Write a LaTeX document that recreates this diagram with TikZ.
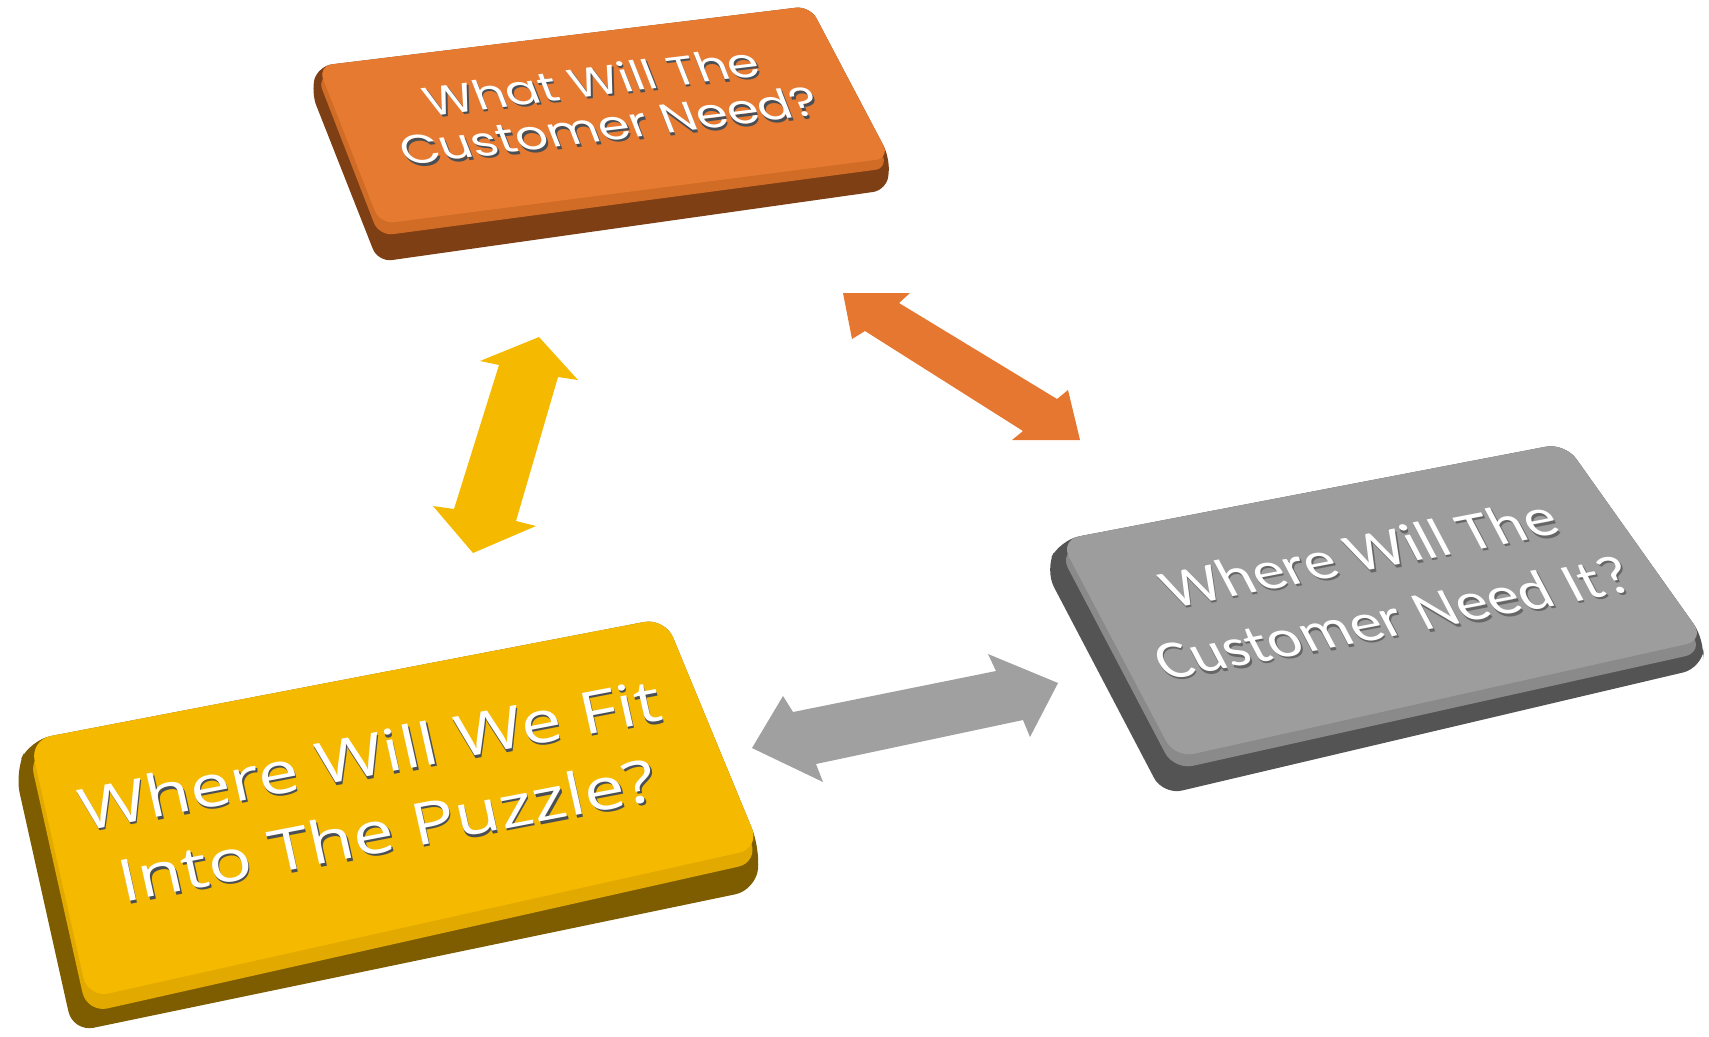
\documentclass[tikz,border=0pt]{standalone}
\usepackage{fontspec}
\newfontfamily\orfont{Poppins}
\newfontfamily\yefont{Open Sans}
\newfontfamily\grfont{Carlito}
\definecolor{orTop}{HTML}{E67A31}
\definecolor{orMid}{HTML}{D06C25}
\definecolor{orDark}{HTML}{7E3F14}
\definecolor{yeTop}{HTML}{F5B900}
\definecolor{yeMid}{HTML}{E2AA00}
\definecolor{yeDark}{HTML}{7D5D00}
\definecolor{grTop}{HTML}{9D9D9D}
\definecolor{grMid}{HTML}{8A8A8A}
\definecolor{grDark}{HTML}{545454}
\definecolor{orArrow}{HTML}{E57731}
\definecolor{yeArrow}{HTML}{F5BA00}
\definecolor{grArrow}{HTML}{A0A0A0}
\definecolor{txtShadow}{HTML}{4A4F55}
\definecolor{txtShadowG}{HTML}{666666}
\tikzset{
  tiletxt/.style={align=center, inner sep=0pt, transform shape, text=white},
  shadowtxt/.style={align=center, inner sep=0pt, transform shape, text=txtShadow},
}
\begin{document}
\begin{tikzpicture}[x=0.02cm, y=-0.02cm]
\useasboundingbox (0,0) rectangle (1709,1036);

% ---------- orange tile ----------
\fill[orDark, rounded corners=8pt] (318,66) -- (810,6) -- (890,158) -- (887,190) -- (378,262) -- (311,92) -- cycle;
\fill[orMid, rounded corners=8pt] (317,76) -- (809,16) -- (889,168) -- (379,236) -- cycle;
\fill[orTop, rounded corners=8pt] (318,66) -- (810,6) -- (890,158) -- (380,224) -- cycle;

% ---------- yellow tile ----------
\fill[yeDark, rounded corners=12pt] (30,740) -- (665,618) -- (760,848) -- (756,890) -- (73,1032) -- (15,772) -- cycle;
\fill[yeMid, rounded corners=12pt] (29,753) -- (664,631) -- (759,862) -- (87,1013) -- cycle;
\fill[yeTop, rounded corners=12pt] (30,740) -- (665,618) -- (760,848) -- (88,998) -- cycle;

% ---------- gray tile ----------
\fill[grDark, rounded corners=11pt] (1060,540) -- (1565,443) -- (1705,640) -- (1702,668) -- (1163,795) -- (1045,570) -- cycle;
\fill[grMid, rounded corners=11pt] (1059,551) -- (1564,454) -- (1704,652) -- (1174,770) -- cycle;
\fill[grTop, rounded corners=11pt] (1060,540) -- (1565,443) -- (1705,640) -- (1175,758) -- cycle;

% ---------- arrows ----------
\fill[yeArrow] (539,337) -- (578,380) -- (558,377) -- (516,521) -- (536,526) -- (473,553) -- (433,506) -- (454,509) -- (499,365) -- (480,361) -- cycle;
\fill[orArrow] (843,293) -- (910,293) -- (899,303) -- (1057,399) -- (1068,390) -- (1080,440) -- (1012,440) -- (1023,431) -- (865,331) -- (852,339) -- cycle;
\fill[grArrow] (752,748) -- (783,696) -- (793,712) -- (996,671) -- (988,654) -- (1058,683) -- (1030,737) -- (1023,720) -- (816,764) -- (823,782) -- cycle;

% ---------- texts ----------
\begin{scope}[shift={(600,103)}]
  \begin{scope}[shift={(1.5,2.5)}]
    \node[shadowtxt, font={\orfont\fontsize{28.5}{32}\selectfont}, cm={0.9926,0.1215,-0.310,0.791,(0,0)}] (oTs) at (0,0) {What Will The\\Customer Need?};
  \end{scope}
  \node[tiletxt, font={\orfont\fontsize{28.5}{32}\selectfont}, cm={0.9926,0.1215,-0.310,0.791,(0,0)}] (oT) at (0,0) {What Will The\\Customer Need?};
\end{scope}

\begin{scope}[shift={(378,792)}]
  \begin{scope}[shift={(1.5,2.5)}]
    \node[shadowtxt, font={\yefont\fontsize{41.5}{55}\selectfont}, cm={0.982,0.1887,-0.175,0.781,(0,0)}] (yTs) at (0,0) {Where Will We Fit\\Into The Puzzle?};
  \end{scope}
  \node[tiletxt, font={\yefont\fontsize{41.5}{55}\selectfont}, cm={0.982,0.1887,-0.175,0.781,(0,0)}] (yT) at (0,0) {Where Will We Fit\\Into The Puzzle?};
\end{scope}

\begin{scope}[shift={(1376,585)}]
  \begin{scope}[shift={(1.5,2.5)}]
    \node[shadowtxt, text=txtShadowG, font={\grfont\fontsize{36}{45}\selectfont}, cm={0.982,0.1886,-0.429,0.814,(0,0)}] (gTs) at (0,0) {Where Will The\\Customer Need It?};
  \end{scope}
  \node[tiletxt, font={\grfont\fontsize{36}{45}\selectfont}, cm={0.982,0.1886,-0.429,0.814,(0,0)}] (gT) at (0,0) {Where Will The\\Customer Need It?};
\end{scope}
\end{tikzpicture}
\end{document}
